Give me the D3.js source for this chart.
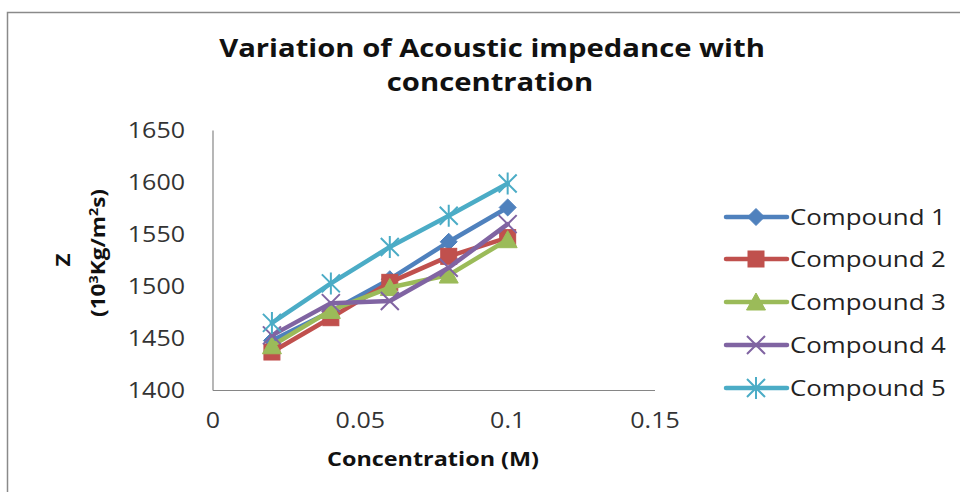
<!DOCTYPE html>
<html>
<head>
<meta charset="utf-8">
<script src="https://cdn.jsdelivr.net/npm/d3@7"></script>
<style>
  html, body { margin: 0; padding: 0; background: #fff; }
  svg { display: block; }
</style>
</head>
<body>
<svg id="chart" width="960" height="492"></svg>
<script>
// ---- data ----
const concentration = [0.02, 0.04, 0.06, 0.08, 0.1];
const compound1 = [1448, 1476, 1507, 1543, 1576];
const compound2 = [1437, 1470, 1504, 1529, 1547];
const compound3 = [1443, 1477, 1499, 1511, 1545];
const compound4 = [1453, 1484, 1486, 1518, 1560];
const compound5 = [1465, 1503, 1538, 1568, 1599];
const seriesNames = ["Compound 1", "Compound 2", "Compound 3", "Compound 4", "Compound 5"];
const xTicks = [0, 0.05, 0.1, 0.15];
const yTicks = [1400, 1450, 1500, 1550, 1600, 1650];
const titleLines = ["Variation of Acoustic impedance with", "concentration"];

const seriesValues = [compound1, compound2, compound3, compound4, compound5];
const colors = ["#4F81BD", "#C0504D", "#9BBB59", "#8064A2", "#4BACC6"];
const markerKinds = ["diamond", "square", "triangle", "x", "star"];

const svg = d3.select("#chart");
const FONT = "'Open Sans', 'Liberation Sans', sans-serif";
const SX = 1.19; // horizontal widening of all text

// chart frame
svg.append("rect")
  .attr("x", 7.5).attr("y", 12.5)
  .attr("width", 1000).attr("height", 600)
  .attr("fill", "#fff").attr("stroke", "#8a8a8a").attr("stroke-width", 1.5);

// text helper: widened text placed at (x, y), optional rotation
function label(x, y, str, opts = {}) {
  const g = svg.append("g")
    .attr("transform", `translate(${x},${y}) rotate(${opts.rotate || 0}) scale(${opts.sx || SX},1)`);
  const t = g.append("text")
    .attr("x", 0).attr("y", 0)
    .attr("text-anchor", opts.anchor || "middle")
    .attr("font-family", FONT)
    .attr("font-size", opts.size || 21)
    .attr("font-weight", opts.weight || "normal")
    .attr("fill", opts.fill || "#222");
  if (str !== null) t.text(str);
  return t;
}

// title
label(492, 57, titleLines[0], { size: 25, weight: "bold", fill: "#111", sx: 1.17 });
label(490, 91, titleLines[1], { size: 25, weight: "bold", fill: "#111", sx: 1.17 });

// scales
const x = d3.scaleLinear().domain([0, 0.15]).range([213, 655]);
const y = d3.scaleLinear().domain([1400, 1650]).range([390.5, 130.5]);

// axes lines
const axisG = svg.append("g");
axisG.append("line")
  .attr("x1", x(0)).attr("x2", x(0)).attr("y1", y(1650)).attr("y2", y(1400))
  .attr("stroke", "#868686").attr("stroke-width", 1.2);
axisG.append("line")
  .attr("x1", x(0)).attr("x2", x(0.15)).attr("y1", y(1400)).attr("y2", y(1400))
  .attr("stroke", "#868686").attr("stroke-width", 1.2);

// tick labels
yTicks.forEach(v => label(185, y(v) + 7.5, String(v), { anchor: "end", fill: "#333" }));
xTicks.forEach(v => label(x(v), 428, String(v), { fill: "#333" }));

// axis titles
label(433, 466, "Concentration (M)", { size: 20, weight: "bold", sx: 1.17, fill: "#111" });
label(70, 260, "Z", { size: 19, weight: "bold", rotate: -90, fill: "#111" });
const yt = label(105, 253, null, { size: 19, weight: "bold", rotate: -90, fill: "#111" });
yt.append("tspan").text("(10");
yt.append("tspan").text("3").attr("font-size", 12).attr("dy", -7);
yt.append("tspan").text("Kg/m").attr("dy", 7);
yt.append("tspan").text("2").attr("font-size", 12).attr("dy", -7);
yt.append("tspan").text("s)").attr("dy", 7);

// marker drawing
function drawMarker(g, kind, cx, cy, color) {
  const m = g.append("g").attr("transform", `translate(${cx},${cy})`);
  if (kind === "diamond") {
    m.append("path").attr("d", "M0,-8.5L8.5,0L0,8.5L-8.5,0Z").attr("fill", color).attr("stroke", color).attr("stroke-width", 1);
  } else if (kind === "square") {
    m.append("rect").attr("x", -8).attr("y", -8).attr("width", 16).attr("height", 16).attr("fill", color).attr("stroke", color).attr("stroke-width", 1);
  } else if (kind === "triangle") {
    m.append("path").attr("d", "M0,-9L9.5,8L-9.5,8Z").attr("fill", color).attr("stroke", color).attr("stroke-width", 1);
  } else if (kind === "x") {
    m.append("path").attr("d", "M-9,-9L9,9M-9,9L9,-9").attr("stroke", color).attr("stroke-width", 2).attr("fill", "none");
  } else if (kind === "star") {
    m.append("path").attr("d", "M-9,-9L9,9M-9,9L9,-9M0,-11L0,11").attr("stroke", color).attr("stroke-width", 2).attr("fill", "none");
  }
}

// series
const line = d3.line().x(d => x(d[0])).y(d => y(d[1]));
seriesValues.forEach((vals, i) => {
  const g = svg.append("g");
  const pts = concentration.map((c, j) => [c, vals[j]]);
  g.append("path").attr("d", line(pts))
    .attr("fill", "none").attr("stroke", colors[i]).attr("stroke-width", 4.5)
    .attr("stroke-linejoin", "round").attr("stroke-linecap", "round");
  pts.forEach(p => drawMarker(g, markerKinds[i], x(p[0]), y(p[1]), colors[i]));
});

// legend
const legendRows = [217, 259, 302, 345, 388];
seriesNames.forEach((name, i) => {
  const g = svg.append("g");
  const ly = legendRows[i];
  g.append("line").attr("x1", 726).attr("x2", 787).attr("y1", ly).attr("y2", ly)
    .attr("stroke", colors[i]).attr("stroke-width", 4.5).attr("stroke-linecap", "round");
  drawMarker(g, markerKinds[i], 756, ly, colors[i]);
  label(790, ly + 7.5, name, { anchor: "start", fill: "#222", sx: 1.23 });
});
</script>
</body>
</html>
